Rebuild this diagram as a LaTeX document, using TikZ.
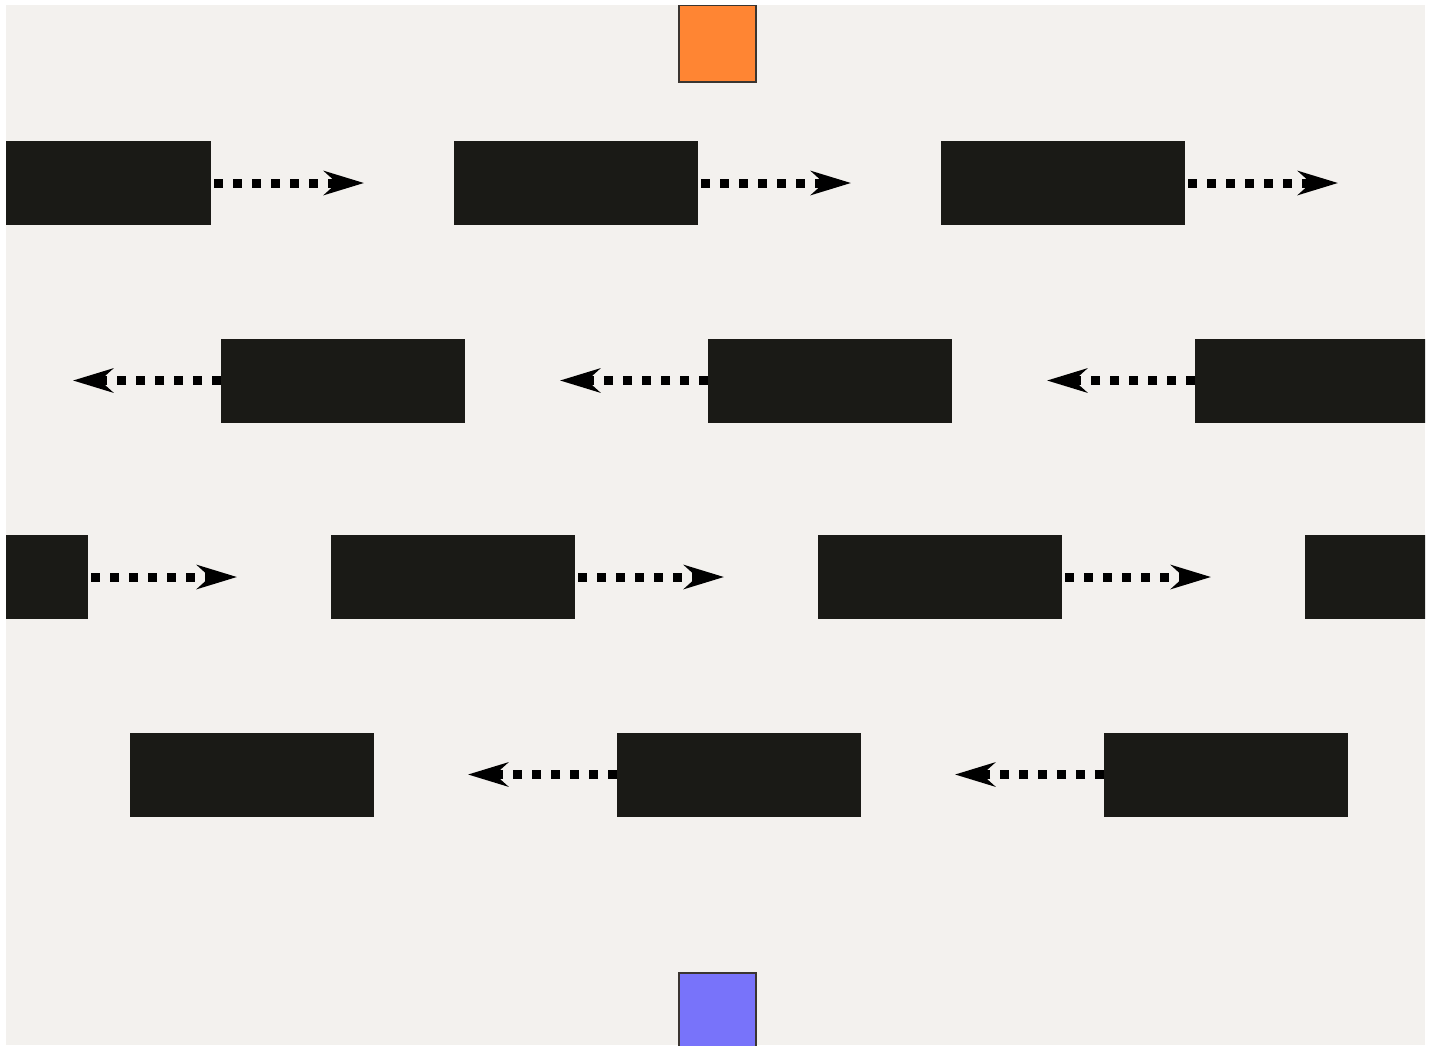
\documentclass[tikz,border=0pt]{standalone}
\usetikzlibrary{arrows.meta, positioning}
\definecolor{paper}{HTML}{F3F1EE}
\definecolor{ink}{HTML}{1A1A16}
\definecolor{tangerine}{HTML}{FF8533}
\definecolor{periwinkle}{HTML}{7873FA}
\definecolor{rim}{HTML}{3A3530}

\tikzset{
  block/.style={fill=ink, minimum width=244pt, minimum height=84pt, inner sep=0pt, outer sep=0pt},
  flow/.style={black, line width=9pt, dash pattern=on 9pt off 10pt, dash phase=16pt,
    -{Stealth[length=40pt, width=24pt]}},
  backflow/.style={flow, dash phase=0pt},
  port/.style={draw=rim, line width=1.2pt, minimum size=77pt, inner sep=0pt}
}

\begin{document}
\begin{tikzpicture}[x=1pt, y=-1pt]

% Canvas
\useasboundingbox (0,0) rectangle (1432,1045);
\fill[paper] (6,5) rectangle (1425,1045);

\begin{scope}
\clip (6,5) rectangle (1425,1045);

% Source and sink squares
\node[port, fill=tangerine] (source) at (717.5,43.5) {};
\node[port, fill=periwinkle] (sink) at (717.5,1011.5) {};

% Row 1: flowing right
\foreach \c/\x in {1/89, 2/576, 3/1063} {
  \node[block] (r1c\c) at (\x,183) {};
  \coordinate[right=153pt of r1c\c] (r1t\c);
  \draw[flow] (r1c\c.east) -- (r1t\c);
}

% Row 2: flowing left
\foreach \c/\x in {1/343, 2/830, 3/1317} {
  \node[block] (r2c\c) at (\x,380.5) {};
  \coordinate[left=148pt of r2c\c] (r2t\c);
  \draw[backflow] (r2c\c.west) -- (r2t\c);
}

% Row 3: flowing right
\foreach \c/\x in {1/-34, 2/453, 3/940} {
  \node[block] (r3c\c) at (\x,577) {};
  \coordinate[right=149pt of r3c\c] (r3t\c);
  \draw[flow] (r3c\c.east) -- (r3t\c);
}
\node[block] (r3c4) at (1427,577) {};

% Row 4: flowing left
\node[block] (r4c1) at (251.5,774.5) {};
\foreach \c/\x in {2/739, 3/1226} {
  \node[block] (r4c\c) at (\x,774.5) {};
  \coordinate[left=149pt of r4c\c] (r4t\c);
  \draw[backflow] (r4c\c.west) -- (r4t\c);
}
\end{scope}

\end{tikzpicture}
\end{document}
